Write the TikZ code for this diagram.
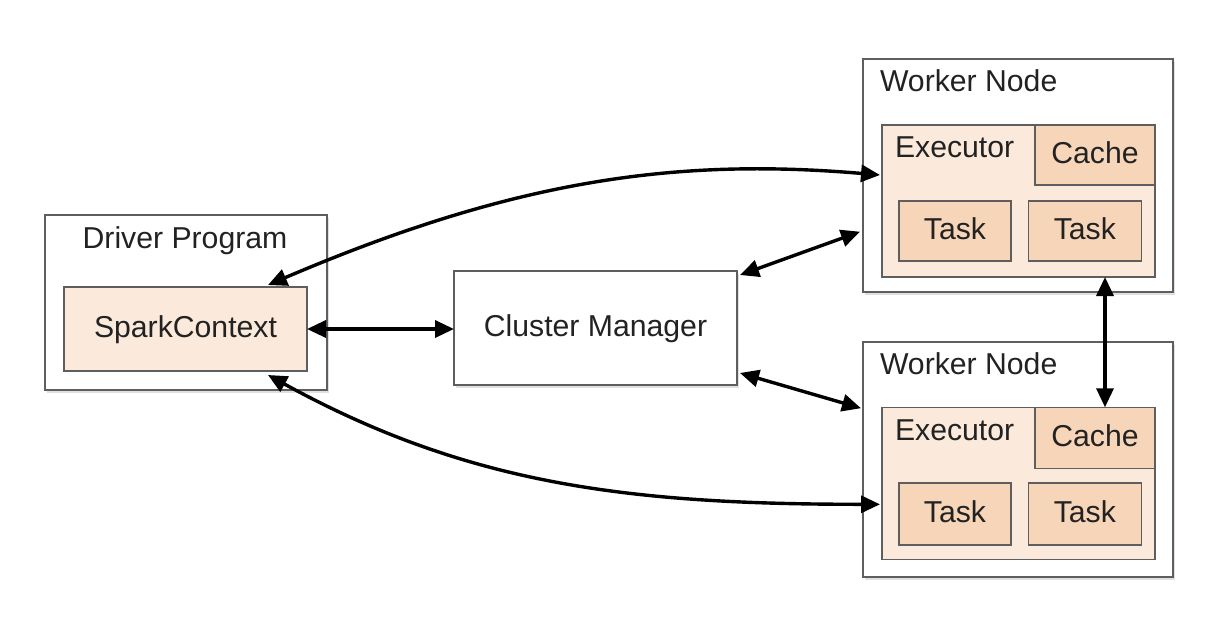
\documentclass[tikz,border=0pt]{standalone}
\usepackage{fontspec}
\setmainfont{Liberation Sans}
\usetikzlibrary{arrows.meta,shadows,calc}
\definecolor{bordergray}{HTML}{5E5E5E}
\definecolor{lightpeach}{HTML}{FBEADC}
\definecolor{peach}{HTML}{F6D5B9}
\definecolor{txt}{HTML}{222222}
\begin{document}
\begin{tikzpicture}[x=1pt,y=-1pt,
  font=\fontsize{30.2}{36}\selectfont, text=txt,
  box/.style={draw=bordergray, line width=1.6pt, inner sep=0pt, outer sep=0pt, fill=white,
    text height=16.6pt, text depth=0pt},
  outerbox/.style={box, drop shadow={shadow xshift=2pt, shadow yshift=-3pt, opacity=0.12, fill=black}},
  inbox/.style={box, fill=lightpeach},
  darkbox/.style={box, fill=peach},
  lbl/.style={inner sep=0pt, outer sep=0pt},
  conn/.style={line width=3.4pt, black,
    {Triangle[length=19pt,width=17pt]}-{Triangle[length=19pt,width=17pt]}}
]
\fill[white] (0,0) rectangle (1216,622);
\useasboundingbox (0,0) rectangle (1216,622);

% Driver program
\node[outerbox, minimum width=282pt, minimum height=175pt] (driver) at (186,302.5) {};
\node[lbl, anchor=base] (driverlabel) at (185,248.3) {Driver Program};
\node[inbox, minimum width=243pt, minimum height=84pt] (spark) at (185.5,329) {SparkContext};

% Cluster manager
\node[outerbox, minimum width=283pt, minimum height=114pt] (cm) at (595.5,328) {Cluster Manager};

% Worker 1
\node[outerbox, minimum width=310pt, minimum height=233pt] (w1) at (1018,175.7) {};
\node[lbl, anchor=base west] (w1label) at (880,91.7) {Worker Node};
\node[inbox, minimum width=273pt, minimum height=152pt] (ex1) at (1018.5,201) {};
\node[lbl, anchor=base west] (ex1label) at (895,157.3) {Executor};
\node[darkbox, minimum width=120pt, minimum height=60pt] (ca1) at (1095,155) {Cache};
\node[darkbox, minimum width=112pt, minimum height=60pt] (t1a) at (955,231) {Task};
\node[darkbox, minimum width=113pt, minimum height=60pt] (t1b) at (1084.8,231) {Task};

% Worker 2
\node[outerbox, minimum width=310pt, minimum height=235pt] (w2) at (1018,459.2) {};
\node[lbl, anchor=base west] (w2label) at (880,374) {Worker Node};
\node[inbox, minimum width=273pt, minimum height=152pt] (ex2) at (1018.5,483.3) {};
\node[lbl, anchor=base west] (ex2label) at (895,440) {Executor};
\node[darkbox, minimum width=120pt, minimum height=61pt] (ca2) at (1095,437.8) {Cache};
\node[darkbox, minimum width=112pt, minimum height=62pt] (t2a) at (955,514) {Task};
\node[darkbox, minimum width=113pt, minimum height=62pt] (t2b) at (1084.8,514) {Task};

% Connectors
\draw[conn] (spark.east) -- (spark.east -| cm.west);
\draw[conn] ([shift={(3,4)}]cm.north east) -- ([shift={(-3,56)}]w1.west);
\draw[conn] ([shift={(3,-12)}]cm.south east) -- ([shift={(-2,-51)}]w2.west);
\draw[conn] ($(ca1.center |- ex1.south)+(10,0)$) -- ($(ca2.north)+(10,0)$);
\draw[conn] ($(spark.north)+(82.5,-2)$) .. controls +(250,-107) and +(-200,-17) .. ($(ex1.west)+(-2,-26)$);
\draw[conn] ($(spark.south)+(82.5,4)$) .. controls +(200,110) and +(-250,0) .. ($(ex2.west)+(-2,21)$);
\end{tikzpicture}
\end{document}
